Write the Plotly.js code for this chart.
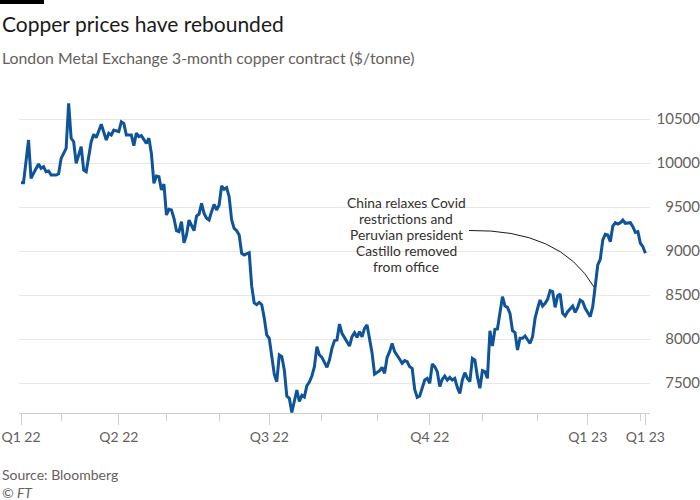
<!DOCTYPE html>
<html>
<head>
<meta charset="utf-8">
<script src="https://cdn.plot.ly/plotly-3.0.1.min.js"></script>
<style>
  html, body { margin: 0; padding: 0; background: #ffffff; }
  #chart { width: 700px; height: 500px; }
</style>
</head>
<body>
<div id="chart"></div>
<script>
// LME trading days (weekends and UK bank holidays excluded)
const holidays = ['2022-04-15','2022-04-18','2022-05-02','2022-06-02','2022-06-03',
  '2022-08-29','2022-09-19','2022-12-26','2022-12-27','2023-01-02'];

const dates = [
  '2022-02-07','2022-02-08','2022-02-10','2022-02-11','2022-02-14','2022-02-16','2022-02-17','2022-02-18',
  '2022-02-21','2022-02-22','2022-02-23','2022-02-25','2022-02-28',
  '2022-03-01','2022-03-03','2022-03-04','2022-03-07','2022-03-08','2022-03-09','2022-03-11','2022-03-14',
  '2022-03-15','2022-03-17','2022-03-18','2022-03-21','2022-03-23','2022-03-25','2022-03-28','2022-03-29','2022-03-30',
  '2022-04-01','2022-04-04','2022-04-05','2022-04-06','2022-04-08','2022-04-11','2022-04-12','2022-04-13','2022-04-14',
  '2022-04-20','2022-04-21','2022-04-22','2022-04-25','2022-04-26','2022-04-27','2022-04-28','2022-04-29',
  '2022-05-03','2022-05-04','2022-05-05','2022-05-06','2022-05-09','2022-05-10','2022-05-11','2022-05-12','2022-05-13',
  '2022-05-16','2022-05-18','2022-05-19','2022-05-20','2022-05-23','2022-05-24','2022-05-25','2022-05-26','2022-05-27',
  '2022-05-30','2022-05-31',
  '2022-06-01','2022-06-06','2022-06-07','2022-06-08','2022-06-09','2022-06-10','2022-06-13','2022-06-14','2022-06-15',
  '2022-06-16','2022-06-17','2022-06-21','2022-06-22','2022-06-23','2022-06-24','2022-06-27','2022-06-28','2022-06-29','2022-06-30',
  '2022-07-01','2022-07-04','2022-07-05','2022-07-06','2022-07-07','2022-07-08','2022-07-11','2022-07-12','2022-07-13','2022-07-14',
  '2022-07-18','2022-07-19','2022-07-20','2022-07-21','2022-07-22','2022-07-25','2022-07-26','2022-07-27','2022-07-28','2022-07-29',
  '2022-08-01','2022-08-03','2022-08-04','2022-08-05','2022-08-08','2022-08-09','2022-08-10','2022-08-11','2022-08-15','2022-08-16',
  '2022-08-17','2022-08-18','2022-08-19','2022-08-22','2022-08-23','2022-08-24','2022-08-25','2022-08-26','2022-08-30','2022-08-31',
  '2022-09-01','2022-09-02','2022-09-05','2022-09-06','2022-09-07','2022-09-08','2022-09-09','2022-09-12','2022-09-14','2022-09-15',
  '2022-09-16','2022-09-20','2022-09-21','2022-09-22','2022-09-23','2022-09-26','2022-09-27','2022-09-28','2022-09-29','2022-09-30',
  '2022-10-03','2022-10-04','2022-10-05','2022-10-06','2022-10-07','2022-10-10','2022-10-11','2022-10-12','2022-10-13','2022-10-14',
  '2022-10-17','2022-10-18','2022-10-19','2022-10-20','2022-10-21','2022-10-24','2022-10-25','2022-10-26','2022-10-27','2022-10-28','2022-10-31',
  '2022-11-01','2022-11-02','2022-11-03','2022-11-04','2022-11-07','2022-11-08','2022-11-09','2022-11-10','2022-11-11','2022-11-14',
  '2022-11-15','2022-11-16','2022-11-17','2022-11-18','2022-11-21','2022-11-22','2022-11-23','2022-11-24','2022-11-25','2022-11-28',
  '2022-11-29','2022-11-30',
  '2022-12-01','2022-12-02','2022-12-05','2022-12-06','2022-12-07','2022-12-08','2022-12-09','2022-12-12','2022-12-13','2022-12-14',
  '2022-12-15','2022-12-16','2022-12-19','2022-12-20','2022-12-21','2022-12-22','2022-12-23','2022-12-28','2022-12-29','2022-12-30',
  '2023-01-03','2023-01-04','2023-01-05','2023-01-06','2023-01-09','2023-01-10','2023-01-11','2023-01-12','2023-01-13','2023-01-16',
  '2023-01-17','2023-01-18','2023-01-19','2023-01-20','2023-01-23','2023-01-24','2023-01-25','2023-01-26','2023-01-27','2023-01-30','2023-01-31',
  '2023-02-01','2023-02-02','2023-02-03'
];

const prices = [
  9776,9776,10261,9826,9883,9989,9940,9958,
  9901,9909,9864,9864,9878,
  10053,10167,10678,10281,10242,9997,10185,9920,
  9901,10242,10326,10288,10440,10261,10337,10318,10375,
  10356,10469,10451,10318,10318,10197,10340,10300,10311,
  10224,10281,10110,9769,9852,9844,9693,9761,
  9409,9474,9466,9372,9231,9220,9333,9094,9182,
  9352,9231,9398,9420,9542,9428,9372,9352,9447,
  9530,9466,
  9523,9739,9701,9720,9617,9352,9258,9231,9182,
  8974,8955,8981,8600,8410,8390,8415,8390,8240,8045,
  8008,7800,7600,7515,7818,7799,7648,7352,7326,7165,
  7420,7290,7360,7340,7470,7510,7580,7685,7913,7818,
  7792,7678,7761,7894,7981,7989,8170,8064,7975,7920,
  8026,8072,8019,8083,8026,8121,8159,8000,7840,7600,
  7620,7640,7678,7610,7792,7856,7951,7856,7770,7724,
  7754,7742,7686,7667,7428,7337,7352,7440,7534,7553,
  7496,7716,7686,7629,7460,7542,7579,7534,7564,7534,
  7553,7450,7382,7534,7617,7553,7515,7780,7761,7572,7440,
  7640,7629,7553,8094,7920,8110,8115,8292,8481,8375,
  8360,8292,8094,8072,7875,8008,8008,8034,7996,7951,
  8026,8235,
  8349,8443,8375,8405,8451,8549,8538,8360,8489,8511,
  8292,8261,8310,8337,8375,8303,8360,8443,8424,8349,
  8300,8254,8367,8594,8841,8906,9125,9190,9182,9106,
  9284,9322,9307,9322,9352,9315,9322,9322,9276,9212,9220,
  9088,9050,8974
];

const quarterTicks = ['2022-02-07','2022-04-01','2022-07-01','2022-10-03','2023-01-03','2023-02-03'];
const quarterLabels = ['Q1 22','Q2 22','Q3 22','Q4 22','Q1 23','Q1 23'];
const monthTicks = ['2022-03-01','2022-05-03','2022-06-01','2022-08-01','2022-09-01','2022-11-01','2022-12-01','2023-02-01'];
const yTicks = [7500, 8000, 8500, 9000, 9500, 10000, 10500];
const yTickLabels = ['7500', '8000', '8500', '9000', '9500', '10000', '10500'];
const noteLines = ['China relaxes Covid', 'restrictions and', 'Peruvian president', 'Castillo removed', 'from office'];

const FONT = 'Lato, "Open Sans", sans-serif';
const GREY = '#66605c';

// plot area: x 19..650 px, y 95..413 px; paper spans x 19..700
const PW = 681, PH = 318;
const px = v => (v - 19) / PW;
const py = v => (413 - v) / PH;

const trace = {
  type: 'scatter', mode: 'lines',
  x: dates, y: prices,
  line: { color: '#0f5499', width: 3 },
  hoverinfo: 'skip'
};

const annotations = [
  { xref: 'paper', yref: 'paper', x: px(0), y: py(23), xanchor: 'left', yanchor: 'middle', showarrow: false,
    text: 'Copper prices have rebounded', font: { family: FONT, size: 21, color: '#1a1a1a' } },
  { xref: 'paper', yref: 'paper', x: px(0), y: py(57), xanchor: 'left', yanchor: 'middle', showarrow: false,
    text: 'London Metal Exchange 3-month copper contract ($/tonne)', font: { family: FONT, size: 15.8, color: GREY } },
  { xref: 'paper', yref: 'paper', x: px(0), y: py(474), xanchor: 'left', yanchor: 'middle', showarrow: false,
    text: 'Source: Bloomberg', font: { family: FONT, size: 14, color: GREY } },
  { xref: 'paper', yref: 'paper', x: px(0), y: py(492), xanchor: 'left', yanchor: 'middle', showarrow: false,
    text: '<i>© FT</i>', font: { family: FONT, size: 14, color: GREY } }
];
noteLines.forEach((t, k) => {
  annotations.push({ xref: 'paper', yref: 'paper', x: px(406), y: py(202 + 16 * k),
    xanchor: 'center', yanchor: 'middle', showarrow: false,
    text: t, font: { family: FONT, size: 13.8, color: '#33302e' } });
});

const layout = {
  width: 700, height: 500,
  margin: { l: 19, r: 0, t: 95, b: 87 },
  paper_bgcolor: '#ffffff', plot_bgcolor: '#ffffff',
  showlegend: false,
  font: { family: FONT, color: GREY },
  xaxis: {
    type: 'date',
    domain: [0, 631 / PW],
    range: ['2022-02-04 04:48', '2023-02-06 20:00'],
    rangebreaks: [{ bounds: ['sat', 'mon'] }, { values: holidays }],
    tickmode: 'array', tickvals: quarterTicks, ticktext: quarterLabels,
    ticks: 'outside', ticklen: 11, tickwidth: 1, tickcolor: '#d6cfc9',
    minor: { tickmode: 'array', tickvals: monthTicks, ticks: 'outside', ticklen: 7, tickwidth: 1, tickcolor: '#d6cfc9', showgrid: false },
    showline: true, linecolor: '#d6cfc9', linewidth: 1,
    showgrid: false, zeroline: false,
    tickfont: { family: FONT, size: 14, color: GREY },
    fixedrange: true
  },
  yaxis: {
    range: [7159, 10773],
    side: 'left', anchor: 'free', position: 1,
    tickmode: 'array', tickvals: yTicks, ticktext: yTickLabels,
    ticks: '', ticklen: 0, showline: false, zeroline: false,
    showgrid: true, gridcolor: '#ebe6e2', gridwidth: 1,
    tickfont: { family: FONT, size: 15, color: GREY },
    automargin: false, fixedrange: true
  },
  shapes: [
    { type: 'rect', xref: 'paper', yref: 'paper', x0: px(0), x1: px(44), y0: py(4), y1: py(0),
      fillcolor: '#000000', line: { width: 0 } },
    { type: 'path', xref: 'paper', yref: 'paper',
      path: 'M ' + px(469) + ' ' + py(230.5) + ' Q ' + px(560) + ' ' + py(229) + ' ' + px(594) + ' ' + py(287),
      line: { color: '#1a1a1a', width: 1 } }
  ],
  annotations: annotations
};

Plotly.newPlot('chart', [trace], layout, { displayModeBar: false, staticPlot: true });
</script>
</body>
</html>
